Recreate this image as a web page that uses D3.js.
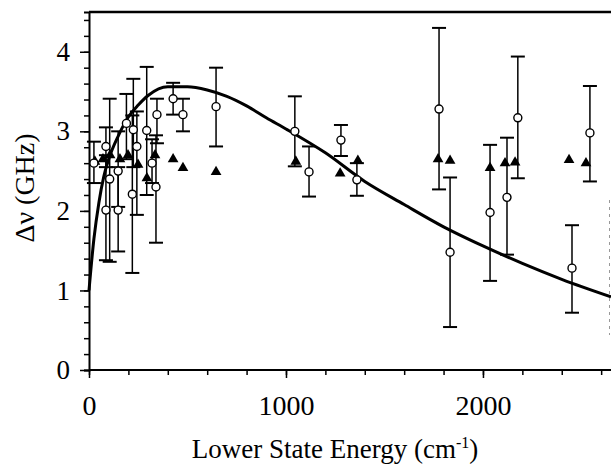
<!DOCTYPE html>
<html>
<head>
<meta charset="utf-8">
<script src="https://cdn.jsdelivr.net/npm/d3@7"></script>
<style>
  body { margin: 0; background: #fff; }
  svg text { font-family: "Liberation Serif", "DejaVu Serif", serif; }
</style>
</head>
<body>
<div id="chart"></div>
<script>
// open circles with error bars
const circleE  = [25, 86, 105, 86, 148, 148, 190, 225, 243, 220, 293, 320, 340, 345, 427, 477, 645,
                  1045, 1117, 1279, 1360, 1777, 1833, 2036, 2122, 2177, 2452, 2543]
const circleV  = [2.60, 2.81, 2.40, 2.01, 2.50, 2.01, 3.10, 3.02, 2.81, 2.21, 3.01, 2.60, 2.30, 3.21, 3.41, 3.21, 3.31,
                  3.00, 2.49, 2.89, 2.39, 3.28, 1.48, 1.98, 2.17, 3.17, 1.28, 2.98]
const circleLo = [2.35, 2.55, 1.36, 1.38, 2.05, 1.49, 2.65, 2.55, 1.95, 1.22, 2.20, 2.35, 1.60, 2.85, 3.21, 3.00, 2.81,
                  2.56, 2.18, 2.69, 2.19, 2.27, 0.54, 1.12, 1.45, 2.41, 0.72, 2.37]
const circleHi = [2.87, 3.05, 3.41, 2.70, 3.00, 2.55, 3.47, 3.66, 3.25, 3.20, 3.81, 2.90, 2.95, 3.41, 3.61, 3.41, 3.80,
                  3.44, 2.81, 3.08, 2.60, 4.30, 2.42, 2.83, 2.92, 3.94, 1.82, 3.57]

// filled triangles
const triE = [30, 71, 107, 157, 198, 249, 294, 335, 427, 477, 645, 1050, 1275, 1365, 1772, 1833, 2036, 2112, 2163, 2437, 2523]
const triV = [2.62, 2.65, 2.70, 2.65, 2.70, 2.58, 2.41, 2.70, 2.65, 2.54, 2.49, 2.62, 2.47, 2.63, 2.65, 2.63, 2.54, 2.60, 2.61, 2.64, 2.60]

// model curve
const curveE = [0, 25, 50, 75, 100, 150, 200, 250, 300, 400, 500, 600, 700, 800, 900, 1000,
                1200, 1400, 1600, 1800, 2000, 2200, 2400, 2650]
const curveV = [1.0, 1.65, 2.1, 2.43, 2.65, 2.95, 3.18, 3.33, 3.45, 3.56, 3.56, 3.52, 3.44, 3.32, 3.17, 3.03,
                2.73, 2.37, 2.08, 1.80, 1.56, 1.34, 1.14, 0.92]

const xTickLabels = [0, 1000, 2000]
const xMinor = d3.range(0, 2601, 200)
const yTickLabels = [0, 1, 2, 3, 4]
const yMinor = d3.range(0, 4.41, 0.2)

const width = 611, height = 464

const svg = d3.select('#chart').append('svg')
  .attr('width', width)
  .attr('height', height)

const x = d3.scaleLinear().domain([0, 2650]).range([89, 611])
const y = d3.scaleLinear().domain([0, 4.5]).range([370, 12])

// frame
svg.append('line').attr('x1', 89).attr('x2', 611).attr('y1', y(4.5)).attr('y2', y(4.5))
  .attr('stroke', '#000').attr('stroke-width', 2.5)
svg.append('line').attr('x1', 609.5).attr('x2', 609.5).attr('y1', 200).attr('y2', 335)
  .attr('stroke', '#999').attr('stroke-width', 1).attr('stroke-dasharray', '3,4')

// y axis
svg.append('g').attr('transform', 'translate(89,0)')
  .call(d3.axisLeft(y).tickValues(yMinor).tickSize(5).tickFormat(''))
  .call(g => g.select('.domain').attr('stroke-width', 2))
  .call(g => g.selectAll('.tick line').attr('stroke-width', 1.5))
svg.append('g').attr('transform', 'translate(89,0)')
  .call(d3.axisLeft(y).tickValues(yTickLabels).tickSize(9).tickPadding(10).tickFormat(d3.format('d')))
  .call(g => g.select('.domain').remove())
  .call(g => g.selectAll('.tick line').attr('stroke-width', 1.5))
  .call(g => g.selectAll('.tick text').attr('font-size', 27).attr('fill', '#000'))

// x axis
svg.append('g').attr('transform', 'translate(0,370)')
  .call(d3.axisBottom(x).tickValues(xMinor).tickSize(5).tickFormat(''))
  .call(g => g.select('.domain').attr('stroke-width', 2).attr('d', 'M89,0H611'))
  .call(g => g.selectAll('.tick line').attr('stroke-width', 1.5))
svg.append('g').attr('transform', 'translate(0,370)')
  .call(d3.axisBottom(x).tickValues(xTickLabels).tickSize(8).tickPadding(17).tickFormat(d3.format('d')))
  .call(g => g.select('.domain').remove())
  .call(g => g.selectAll('.tick line').attr('stroke-width', 1.5))
  .call(g => g.selectAll('.tick text').attr('font-size', 28).attr('fill', '#000'))

// titles
svg.append('text')
  .attr('transform', 'translate(34,188) rotate(-90)')
  .attr('text-anchor', 'middle')
  .attr('font-size', 28)
  .text('Δν (GHz)')

const xt = svg.append('text')
  .attr('x', 335).attr('y', 458)
  .attr('text-anchor', 'middle')
  .attr('font-size', 27)
xt.append('tspan').text('Lower State Energy (cm')
xt.append('tspan').text('-1').attr('font-size', 16).attr('dy', -10)
xt.append('tspan').text(')').attr('dy', 10)

// curve
const line = d3.line().x(d => x(d[0])).y(d => y(d[1])).curve(d3.curveMonotoneX)
const curveData = curveE.map((e, i) => [e, curveV[i]])
svg.append('path').datum(curveData)
  .attr('d', line)
  .attr('fill', 'none').attr('stroke', '#000').attr('stroke-width', 3)

// error bars
const bars = circleE.map((e, i) => ({ e: e, v: circleV[i], lo: circleLo[i], hi: circleHi[i] }))
const capW = 7
svg.selectAll('.err').data(bars).enter().append('line')
  .attr('class', 'err')
  .attr('x1', d => x(d.e)).attr('x2', d => x(d.e))
  .attr('y1', d => y(d.lo)).attr('y2', d => y(d.hi))
  .attr('stroke', '#000').attr('stroke-width', 1.5)
svg.selectAll('.capTop').data(bars).enter().append('line')
  .attr('x1', d => x(d.e) - capW).attr('x2', d => x(d.e) + capW)
  .attr('y1', d => y(d.hi)).attr('y2', d => y(d.hi))
  .attr('stroke', '#000').attr('stroke-width', 2)
svg.selectAll('.capBot').data(bars).enter().append('line')
  .attr('x1', d => x(d.e) - capW).attr('x2', d => x(d.e) + capW)
  .attr('y1', d => y(d.lo)).attr('y2', d => y(d.lo))
  .attr('stroke', '#000').attr('stroke-width', 2)

// triangles
const tri = d3.symbol().type(d3.symbolTriangle).size(50)
svg.selectAll('.tri').data(triE.map((e, i) => [e, triV[i]])).enter().append('path')
  .attr('d', tri)
  .attr('transform', d => 'translate(' + x(d[0]) + ',' + y(d[1]) + ')')
  .attr('fill', '#000')

// open circles
svg.selectAll('.pt').data(bars).enter().append('circle')
  .attr('cx', d => x(d.e)).attr('cy', d => y(d.v))
  .attr('r', 4)
  .attr('fill', '#fff').attr('stroke', '#000').attr('stroke-width', 1.4)
</script>
</body>
</html>
